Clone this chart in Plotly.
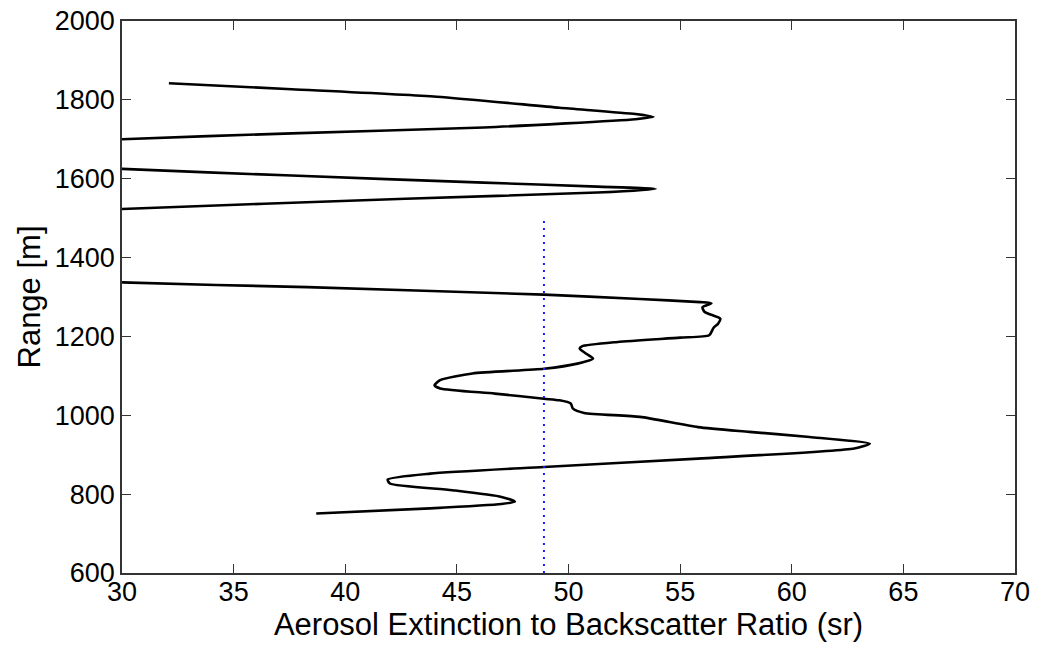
import plotly.graph_objects as go

# Lidar ratio profile: aerosol extinction-to-backscatter ratio (sr) vs range (m),
# listed from the top of the profile downward.
ratio_sr = [
    32.1, 37.6, 44.1, 49.6, 53.0, 53.8, 53.0, 46.2, 37.6, 30.0,
    24.0, 24.0,
    30.0, 37.6, 46.2, 51.3, 53.9, 51.3, 42.7, 30.0,
    22.0, 20.0, 22.0,
    30.0, 38.3, 48.9, 53.2, 55.9, 56.4, 56.0, 56.1, 56.8, 56.7, 56.5,
    56.3, 55.0, 52.2, 50.6, 50.5, 50.8, 51.1, 50.4, 48.9, 45.7,
    44.25, 44.0, 44.25, 46.7, 48.9, 49.6, 50.1, 50.2, 50.7, 53.2,
    55.8, 58.1, 60.8, 63.5, 62.8, 55.8, 48.9, 43.8, 41.9, 42.0,
    44.8, 47.0, 47.6, 47.0, 43.8, 38.7,
]
range_m = [
    1842, 1827, 1808, 1780, 1764, 1757, 1751, 1730, 1715, 1700,
    1680, 1645,
    1625, 1608, 1590, 1580, 1574, 1565, 1549, 1523,
    1500, 1430, 1360,
    1337, 1325, 1306, 1295, 1287, 1284, 1274, 1262, 1245, 1232, 1222,
    1203, 1197, 1186, 1175, 1169, 1156, 1144, 1131, 1118, 1106,
    1089, 1076, 1068, 1055, 1042, 1038, 1030, 1017, 1006, 996,
    970, 958, 945, 928, 916, 890, 869, 852, 837, 827,
    810, 793, 781, 775, 764, 751,
]

# Mean ratio reference line
mean_ratio = [48.9, 48.9]
mean_range = [600, 1500]

x_ticks = [30, 35, 40, 45, 50, 55, 60, 65, 70]
y_ticks = [600, 800, 1000, 1200, 1400, 1600, 1800, 2000]

FONT = "Liberation Sans, Arial, sans-serif"

fig = go.Figure()
fig.add_trace(go.Scatter(
    x=ratio_sr, y=range_m, mode="lines",
    line=dict(color="black", width=2.6, shape="spline", smoothing=0.6),
    showlegend=False, hoverinfo="skip",
))
fig.add_trace(go.Scatter(
    x=mean_ratio, y=mean_range, mode="lines",
    line=dict(color="#1a1aff", width=2.0, dash="2px,5px"),
    showlegend=False, hoverinfo="skip",
))

axis_common = dict(
    showgrid=False, zeroline=False, automargin=False,
    showline=True, linecolor="#333333", linewidth=1.5,
    mirror="ticks", ticks="inside", ticklen=9, tickwidth=1.2,
    tickcolor="#333333",
    tickfont=dict(family=FONT, size=27, color="black"),
)

fig.update_xaxes(
    range=[30, 70], tickvals=x_ticks, ticktext=[str(v) for v in x_ticks],
    ticklabelstandoff=-6,
    title=dict(text="Aerosol Extinction to Backscatter Ratio (sr)",
               font=dict(family=FONT, size=31, color="black"), standoff=0),
    **axis_common,
)
fig.update_yaxes(
    range=[600, 2000], tickvals=y_ticks, ticktext=[str(v) for v in y_ticks],
    title=dict(text="Range [m]",
               font=dict(family=FONT, size=31, color="black"), standoff=5),
    **axis_common,
)

fig.update_layout(
    width=1037, height=648,
    margin=dict(l=122, r=22, t=21, b=75),
    plot_bgcolor="white", paper_bgcolor="white",
)

fig.write_html("out.html")
